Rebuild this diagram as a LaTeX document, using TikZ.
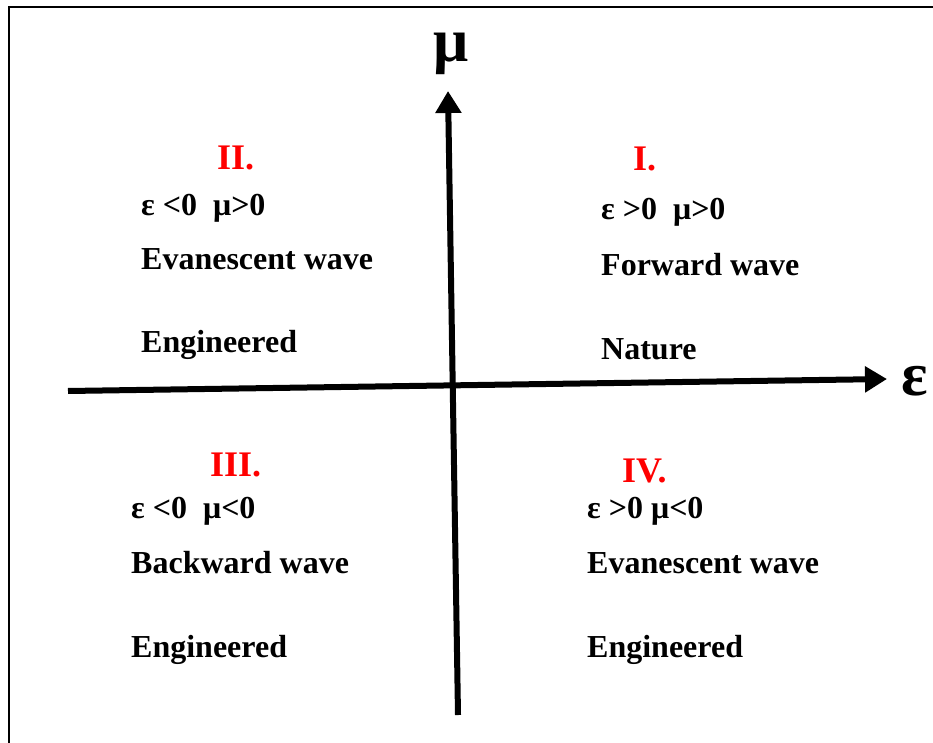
\documentclass[tikz,border=0pt]{standalone}
\usepackage{fontspec}
\setmainfont{Liberation Serif}
\usetikzlibrary{arrows.meta}
\definecolor{numred}{RGB}{255,0,0}
\tikzset{
  lbl/.style={anchor=base west, inner sep=0pt, font=\fontsize{32}{32}\selectfont\bfseries},
  num/.style={anchor=base west, inner sep=0pt, text=numred, font=\fontsize{36}{36}\selectfont\bfseries},
  axlbl/.style={anchor=base west, inner sep=0pt, font=\fontsize{62}{62}\selectfont\bfseries},
  axis/.style={line width=6pt, -{Triangle[length=22pt,width=25pt]}},
  frame/.style={line width=2pt}
}
\begin{document}
\begin{tikzpicture}[x=1pt,y=-1pt]
\useasboundingbox (0,0) rectangle (933,743);
\fill[white] (0,0) rectangle (933,743);
\draw[frame] (9,743) -- (9,7) -- (933,7);
% axes
\coordinate (xs) at (68,391);
\coordinate (xe) at (887,379);
\coordinate (ys) at (458,715);
\coordinate (ye) at (448,91);
\draw[axis] (xs) -- (xe);
\draw[axis] (ys) -- (ye);
\node[axlbl] (mu) at (433,62) {μ};
\node[axlbl] (eps) at (901,395) {ε};
% quadrant II
\node[num] (n2) at (217,170) {II.};
\node[lbl] (c2) at (141,215) {ε <0~~μ>0};
\node[lbl] (w2) at (141,269) {Evanescent wave};
\node[lbl] (o2) at (141,352) {Engineered};
% quadrant I
\node[num] (n1) at (633,171) {I.};
\node[lbl] (c1) at (601,220) {ε >0~~μ>0};
\node[lbl] (w1) at (601,275) {Forward wave};
\node[lbl] (o1) at (601,359) {Nature};
% quadrant III
\node[num] (n3) at (210,476) {III.};
\node[lbl] (c3) at (131,518) {ε <0~~μ<0};
\node[lbl] (w3) at (131,573) {Backward wave};
\node[lbl] (o3) at (131,657) {Engineered};
% quadrant IV
\node[num] (n4) at (622,482) {IV.};
\node[lbl] (c4) at (587,518) {ε >0 μ<0};
\node[lbl] (w4) at (587,573) {Evanescent wave};
\node[lbl] (o4) at (587,657) {Engineered};
\end{tikzpicture}
\end{document}
